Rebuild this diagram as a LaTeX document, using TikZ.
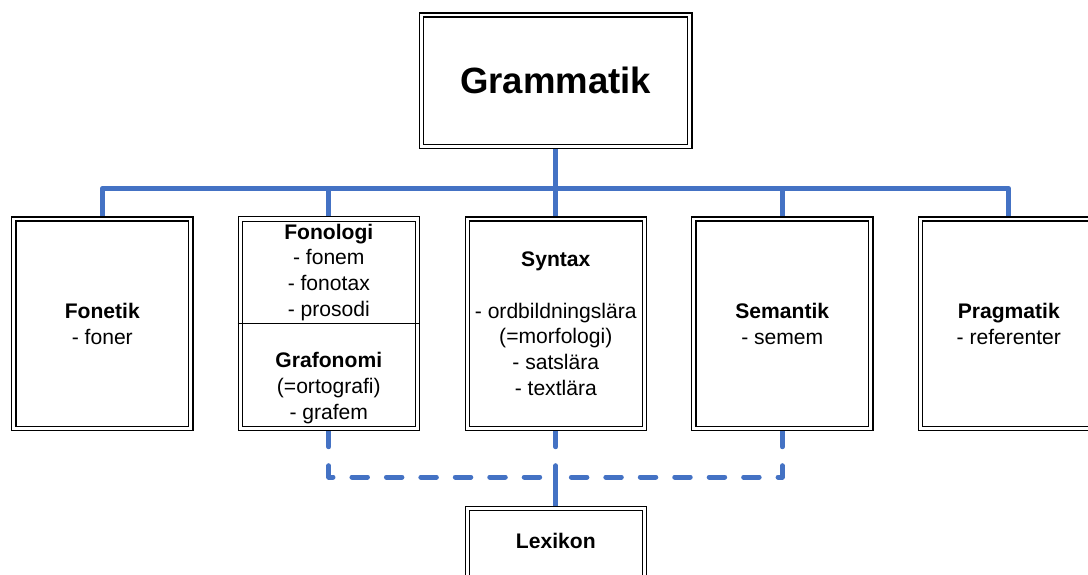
\documentclass[tikz,border=0pt]{standalone}
\usepackage{fontspec}
\setmainfont{Liberation Sans}
\usetikzlibrary{backgrounds}
\definecolor{linkblue}{RGB}{68,114,196}

\begin{document}
\begin{tikzpicture}[x=0.025cm,y=-0.025cm,
    every node/.style={font=\fontsize{15}{18.3}\selectfont,align=center,inner sep=0pt},
    box/.style={draw,fill=white,double,double distance=2.1pt,line width=0.9pt,
        outer sep=1.95pt,minimum width=4.425cm,minimum height=5.2375cm},
    thinbox/.style={box,line width=0.7pt,double distance=2.5pt,outer sep=1.95pt},
    link/.style={linkblue,line width=3.56pt,line cap=round,line join=round},
    dashlink/.style={link,dash pattern=on 11pt off 13.5pt}]
\useasboundingbox (0,0) rectangle (1088,574);

% top box
\node[box,minimum width=6.71cm,minimum height=3.29cm,
    font=\fontsize{26}{30}\selectfont\bfseries] (gram) at (555.6,80.8) {Grammatik};

% the five branches
\node[box] (fonet) at (102.3,323.75) {\textbf{Fonetik}\\- foner};
\node[thinbox] (fonol) at (328.8,323.75) {\textbf{Fonologi}\\- fonem\\- fonotax\\- prosodi\\[18.3pt]%
    \textbf{Grafonomi}\\(=ortografi)\\- grafem};
\draw[line width=0.9pt] (fonol.west) -- (fonol.east);
\node[box] (syn) at (555.8,323.75) {\textbf{Syntax}\\[18.3pt]- ordbildningslära\\(=morfologi)\\- satslära\\- textlära};
\node[box] (sem) at (782.3,323.75) {\textbf{Semantik}\\- semem};
\node[box] (prag) at (1008.8,323.75) {\textbf{Pragmatik}\\- referenter};

% bottom box (runs off the page)
\node[box,minimum height=2.2875cm,text height=11pt,text depth=19.4pt] (lex) at (555.8,554.25) {\textbf{Lexikon}};

\begin{scope}[on background layer]
\coordinate (bar) at (555.6,188.5);
\foreach \n in {fonet,fonol,syn,sem,prag}
    \draw[link] (gram.south) -- (bar) -| (\n.north);
\coordinate (junc) at (555.8,477);
\draw[dashlink] (fonol.south) |- (junc);
\draw[dashlink] (sem.south) |- (junc);
\draw[link,dash pattern=on 11pt off 13.5pt on 200pt] (syn.south) -- (lex.north);
\end{scope}
\end{tikzpicture}
\end{document}
